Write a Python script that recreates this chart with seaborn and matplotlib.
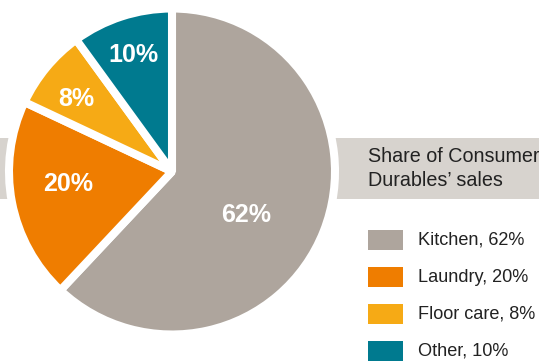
import numpy as np
import matplotlib
matplotlib.use("Agg")
import matplotlib.pyplot as plt
import seaborn as sns
from matplotlib.patches import Rectangle

sns.set_theme(style="white")
plt.rcParams['font.family'] = ['Liberation Sans', 'DejaVu Sans']

categories = ["Kitchen", "Laundry", "Floor care", "Other"]
shares = [62, 20, 8, 10]
legend_labels = ["Kitchen, 62%", "Laundry, 20%", "Floor care, 8%", "Other, 10%"]
title_text = "Share of Consumer\nDurables\u2019 sales"

colors = sns.color_palette(["#aea59d", "#ef7d00", "#f6aa15", "#007a8f"])

W, H = 539, 364
fig = plt.figure(figsize=(W / 100, H / 100), dpi=100)
ax = fig.add_axes([0, 0, 1, 1])

# grey band behind pie
band_color = "#d7d3ce"
ax.add_patch(Rectangle((0, H - 199), W, 61, facecolor=band_color, edgecolor='none', zorder=0))

cx, cy = 172, H - 171.5
R = 163
wedges, _ = ax.pie(shares, colors=colors, startangle=90, counterclock=False,
                   center=(cx, cy), radius=R,
                   wedgeprops=dict(edgecolor='white', linewidth=5.8, joinstyle='bevel'),
                   frame=True)
ax.set_xlim(0, W)
ax.set_ylim(0, H)
ax.set_aspect('equal')
ax.axis('off')

# percentage labels inside wedges
fracs = [0.52, 0.64, 0.74, 0.76]
angle_off = [-8, -4.5, 2, 0]
for w, s, f, da in zip(wedges, shares, fracs, angle_off):
    ang = np.deg2rad((w.theta1 + w.theta2) / 2 + da)
    ax.text(cx + f * R * np.cos(ang), cy + f * R * np.sin(ang) + 1, f"{s}%",
            ha='center', va='center_baseline', color='white', fontsize=18,
            fontweight='bold', zorder=5)

# title in band
ax.text(368, H - 168.5, title_text, ha='left', va='center', fontsize=14.2,
        color='#222222', linespacing=1.35, zorder=5)

# legend
for i, (lab, c) in enumerate(zip(legend_labels, colors)):
    y = H - (240 + i * 37)
    ax.add_patch(Rectangle((368, y - 10), 35, 20, facecolor=c, edgecolor='none'))
    ax.text(418, y, lab, ha='left', va='center', fontsize=13.1, color='#222222')

fig.savefig("out.png", dpi=100)
